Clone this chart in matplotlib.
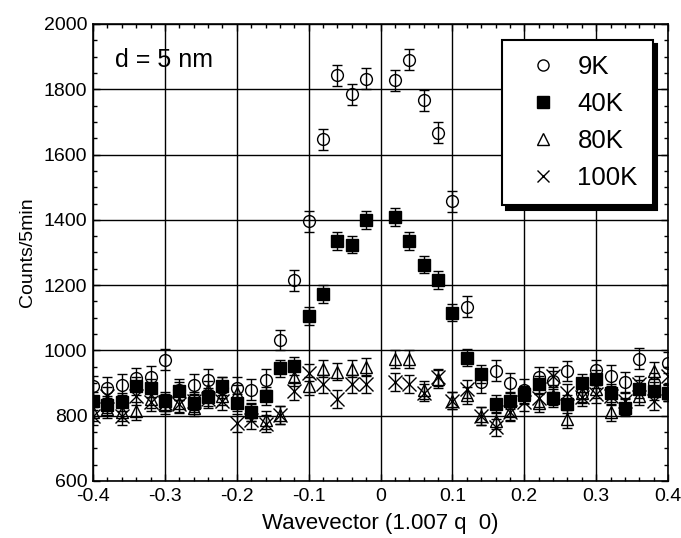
import matplotlib
matplotlib.use('Agg')
import matplotlib.pyplot as plt
from matplotlib.lines import Line2D
from matplotlib.ticker import MultipleLocator

plt.rcParams['font.family'] = ['Liberation Sans', 'DejaVu Sans']

# Wavevector points (no point measured at 0)
q = [-0.40, -0.38, -0.36, -0.34, -0.32, -0.30, -0.28, -0.26, -0.24, -0.22,
     -0.20, -0.18, -0.16, -0.14, -0.12, -0.10, -0.08, -0.06, -0.04, -0.02,
     0.02, 0.04, 0.06, 0.08, 0.10, 0.12, 0.14, 0.16, 0.18, 0.20,
     0.22, 0.24, 0.26, 0.28, 0.30, 0.32, 0.34, 0.36, 0.38, 0.40]

counts_9k = [890, 885, 895, 915, 920, 972, 880, 895, 910, 885,
             885, 880, 910, 1032, 1215, 1396, 1647, 1843, 1785, 1833,
             1828, 1891, 1766, 1667, 1457, 1134, 902, 938, 900, 880,
             918, 906, 937, 870, 940, 922, 902, 975, 900, 962]
counts_40k = [845, 834, 841, 890, 885, 845, 875, 838, 858, 891,
              840, 810, 860, 945, 952, 1106, 1173, 1336, 1324, 1400,
              1408, 1336, 1263, 1215, 1116, 978, 927, 836, 846, 865,
              896, 855, 836, 900, 912, 869, 825, 881, 876, 871]
counts_80k = [812, 820, 810, 815, 850, 833, 838, 825, 878, 860,
              868, 812, 787, 803, 917, 891, 944, 935, 944, 949,
              974, 974, 878, 913, 846, 862, 800, 785, 815, 862,
              838, 860, 790, 870, 881, 810, 828, 861, 938, 871]
counts_100k = [800, 860, 800, 860, 842, 840, 835, 845, 852, 845,
               778, 787, 776, 803, 876, 932, 897, 851, 897, 897,
               903, 897, 871, 917, 846, 882, 800, 764, 810, 842,
               855, 921, 871, 858, 866, 860, 846, 896, 845, 922]

# typical error bar half-heights
err_9k = 32
err_40k = 27
err_80k = 27
err_100k = 27

labels = ['9K', '40K', '80K', '100K']

fig = plt.figure(figsize=(6.81, 5.38), dpi=100)
ax = fig.add_axes([0.1366, 0.106, 0.8444, 0.8494])

eb = dict(color='black', ecolor='black', elinewidth=1, capsize=3.5,
          capthick=1, linestyle='none', zorder=3)
ax.errorbar(q, counts_100k, yerr=err_100k, marker='x', markersize=10,
            markeredgewidth=1, **eb)
ax.errorbar(q, counts_80k, yerr=err_80k, marker='^', markersize=9,
            mfc='none', markeredgewidth=1, **eb)
ax.errorbar(q, counts_40k, yerr=err_40k, marker='s', markersize=8.5,
            mfc='black', **eb)
ax.errorbar(q, counts_9k, yerr=err_9k, marker='o', markersize=8.5,
            mfc='none', markeredgewidth=1, **eb)

ax.set_xlim(-0.4, 0.4)
ax.set_ylim(600, 2000)
ax.set_xticks([-0.4, -0.3, -0.2, -0.1, 0, 0.1, 0.2, 0.3, 0.4])
ax.set_xticklabels(['-0.4', '-0.3', '-0.2', '-0.1', '0', '0.1', '0.2', '0.3', '0.4'])
ax.xaxis.set_minor_locator(MultipleLocator(0.02))
ax.yaxis.set_major_locator(MultipleLocator(200))
ax.yaxis.set_minor_locator(MultipleLocator(50))
ax.tick_params(which='both', direction='in', top=True, right=True,
               labelsize=14)
ax.tick_params(axis='x', pad=5)
ax.tick_params(axis='y', pad=4)
ax.tick_params(which='major', length=5, width=1)
ax.tick_params(which='minor', length=3, width=1)
ax.grid(True, which='major', color='black', linewidth=1)
ax.set_axisbelow(True)
for s in ax.spines.values():
    s.set_linewidth(1.2)

ax.set_xlabel('Wavevector (1.007 q  0)', fontsize=16, labelpad=6)
ax.set_ylabel('Counts/5min', fontsize=14, labelpad=6)
ax.text(0.038, 0.922, 'd = 5 nm', transform=ax.transAxes, fontsize=18,
        va='center', ha='left')

# legend shows markers only
handles = [
    Line2D([], [], color='black', marker='o', mfc='none', markersize=8, linestyle='none'),
    Line2D([], [], color='black', marker='s', mfc='black', markersize=9, linestyle='none'),
    Line2D([], [], color='black', marker='^', mfc='none', markersize=8, linestyle='none'),
    Line2D([], [], color='black', marker='x', markersize=9, linestyle='none'),
]
leg = ax.legend(handles, labels,
                loc='upper right', bbox_to_anchor=(0.974, 0.965),
                borderaxespad=0, fontsize=18.5, fancybox=False,
                edgecolor='black', framealpha=1, handlelength=2.0,
                handletextpad=0.35, labelspacing=0.5, borderpad=0.6,
                shadow={'ox': 3, 'oy': -3, 'color': 'black', 'alpha': 1})
leg.get_frame().set_linewidth(1.5)

fig.savefig('out.png', dpi=100)
